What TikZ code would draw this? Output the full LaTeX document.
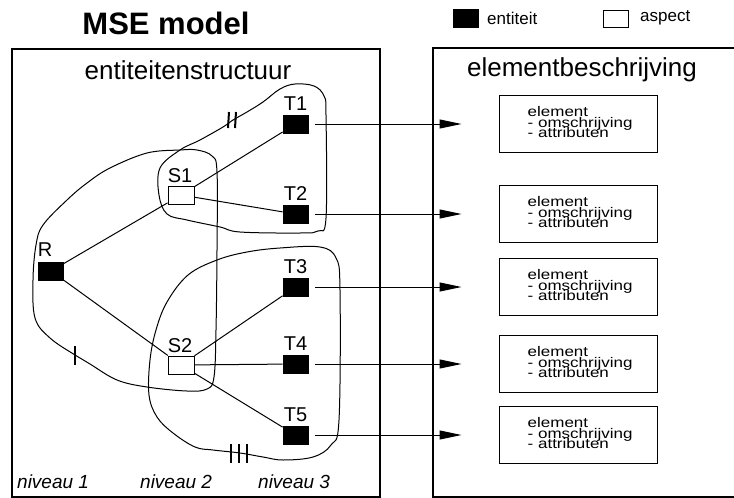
\documentclass[tikz,border=0pt]{standalone}
\usepackage{fontspec}
\setmainfont{Liberation Sans}
\usetikzlibrary{arrows.meta}
\newcommand\squish[1]{\scalebox{1}[0.82]{#1}}
\begin{document}
\begin{tikzpicture}[x=1pt,y=-1pt,
  ent/.style={draw, fill=black, minimum width=25pt, minimum height=18pt, inner sep=0pt, line width=0.8pt},
  asp/.style={draw, fill=white, minimum width=26pt, minimum height=18pt, inner sep=0pt, line width=1pt},
  lbl/.style={font=\fontsize{20}{20}\selectfont, inner sep=0pt},
  head/.style={font=\fontsize{26}{26}\selectfont, inner sep=0pt},
  niv/.style={font=\fontsize{19}{19}\selectfont\itshape, inner sep=0pt, anchor=west},
  leg/.style={font=\fontsize{17}{17}\selectfont, inner sep=0pt, anchor=west},
  ebox/.style={draw, minimum width=158pt, minimum height=57pt, inner sep=0pt, line width=1pt},
  etext/.style={anchor=base west, font=\fontsize{17}{17}\selectfont, inner sep=0pt},
  frame/.style={line width=1.1pt},
  link/.style={line width=1pt},
  arr/.style={line width=1pt, -{Triangle[length=22pt,width=9pt]}},
  blob/.style={line width=1pt},
  tick/.style={line width=2pt}]
\useasboundingbox (0,0) rectangle (734,498);

% title and legend
\node[font=\fontsize{31}{31}\selectfont\bfseries, inner sep=0pt] (title) at (166,23) {MSE model};
\node[ent, minimum width=25pt, minimum height=18pt] (legE) at (465.5,18) {};
\node[leg] (legEt) at (487,18) {entiteit};
\node[asp, minimum width=25pt, minimum height=17pt] (legA) at (615.5,18.5) {};
\node[leg] (legAt) at (640,18) {aspect};

% frames
\draw[frame] (12,49) rectangle (380,497);
\draw[frame] (734,48) -- (433,48) -- (433,497) -- (734,497);
\node[head] (h1) at (188,70) {entiteitenstructuur};
\node[head] (h2) at (582,70) {elementbeschrijving};

% blobs
\draw[blob] plot[smooth cycle, tension=0.6] coordinates {
 (180,150) (197,150) (212,156) (217,172) (217,250) (216,330) (214,377) (207,389)
 (187,391) (147,387) (117,380) (90,364) (75,355) (50,338) (35,318) (33,280)
 (36,245) (43,225) (67,200) (87,183) (110,168) (147,153)};
\draw[blob] plot[smooth cycle, tension=0.6] coordinates {
 (180,150) (200,140) (223,127) (233,120) (247,112) (263,102) (280,89) (295,84)
 (314,86) (324,96) (326,115) (326,218) (318,231) (300,233) (240,232) (220,227)
 (187,220) (167,214) (159,195) (160,168)};
\draw[blob] plot[smooth cycle, tension=0.6] coordinates {
 (217,260) (247,252) (280,248) (320,247) (336,258) (340,290) (339,420) (331,445)
 (313,457) (283,460) (263,457) (240,453) (213,450) (195,447) (173,433) (157,417)
 (149,395) (150,360) (156,330) (167,302) (188,275)};

% group marks
\draw[tick] (75,346) -- (75,365);
\draw[tick] (228,128) -- (229,112);
\draw[tick] (235,128) -- (236,112);
\draw[tick] (231,444) -- (231,463);
\draw[tick] (239,444) -- (239,463);
\draw[tick] (247,444) -- (247,463);

% nodes
\node[ent] (R) at (51,271) {};
\node[asp] (S1) at (181,195) {};
\node[asp] (S2) at (181,365) {};
\node[ent] (T1) at (295.5,124) {};
\node[ent] (T2) at (295.5,214) {};
\node[ent] (T3) at (295.5,287) {};
\node[ent] (T4) at (295.5,364) {};
\node[ent] (T5) at (295.5,435) {};

\node[lbl] (Rl) at (45,250) {R};
\node[lbl] (S1l) at (180,176) {S1};
\node[lbl] (S2l) at (180,346) {S2};
\node[lbl] (T1l) at (295.5,104) {T1};
\node[lbl] (T2l) at (295.5,194) {T2};
\node[lbl] (T3l) at (295.5,267) {T3};
\node[lbl] (T4l) at (295.5,344) {T4};
\node[lbl] (T5l) at (295.5,415) {T5};

\draw[link] (R) -- (S1);
\draw[link] (R) -- (S2);
\draw[link] (S1) -- (T1);
\draw[link] (S1) -- (T2);
\draw[link] (S2) -- (T3);
\draw[link] (S2) -- (T4);
\draw[link] (S2) -- (T5);

% element boxes
\foreach \i/\y in {1/124,2/214,3/287,4/364,5/435}{
  \node[ebox] (E\i) at (578,\y) {};
  \node[etext] (E\i a) at ([shift={(29,-7.5)}]E\i.west) {\squish{element}};
  \node[etext] (E\i b) at ([shift={(29,3)}]E\i.west) {\squish{- omschrijving}};
  \node[etext] (E\i c) at ([shift={(29,13.5)}]E\i.west) {\squish{- attributen}};
  \draw[arr] ([xshift=7]T\i.east) -- ([xshift=-37]E\i.west);
}

% levels
\node[niv] (n1) at (17,482) {niveau 1};
\node[niv] (n2) at (140,482) {niveau 2};
\node[niv] (n3) at (258,482) {niveau 3};
\end{tikzpicture}
\end{document}
